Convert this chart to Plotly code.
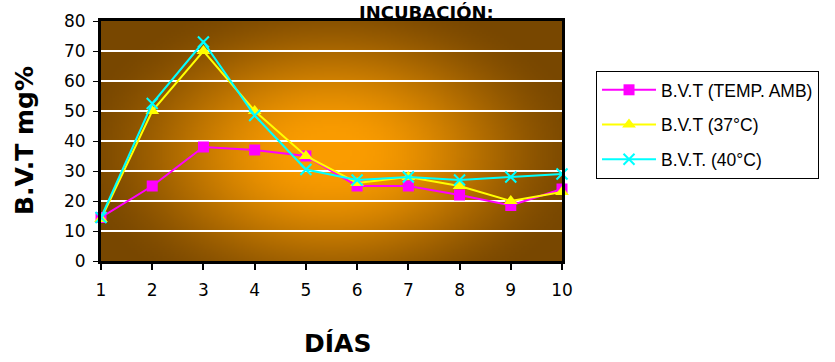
import base64
import struct
import zlib

import numpy as np
import plotly.graph_objects as go

# ---- data -------------------------------------------------------------
dias = [1, 2, 3, 4, 5, 6, 7, 8, 9, 10]
bvt_amb = [14.5, 25, 38, 37, 35, 25, 25, 22, 18.5, 24]
bvt_37 = [14, 50, 70, 50, 35, 26, 28, 25, 20, 23]
bvt_40 = [14.5, 52.5, 73, 48.5, 30.5, 27, 28, 27, 28, 29]

series_names = ["B.V.T (TEMP. AMB)", "B.V.T (37°C)", "B.V.T. (40°C)"]
y_ticks = [0, 10, 20, 30, 40, 50, 60, 70, 80]

FONT = "DejaVu Sans"
LEGEND_FONT = "Liberation Sans, Arial"


# ---- radial orange background as an inline PNG --------------------------
def radial_png(w=240, h=120):
    xs = (np.arange(w) + 0.5) / w
    ys = (np.arange(h) + 0.5) / h
    gx, gy = np.meshgrid(xs, ys)
    t = np.sqrt(((gx - 0.5) / 0.58) ** 2 + ((gy - 0.55) / 0.7) ** 2)
    s = np.clip((t - 0.08) / 0.92, 0, 1)
    s = s * s * (3 - 2 * s)
    bright = np.array([250, 156, 0], dtype=float)
    dark = np.array([120, 71, 0], dtype=float)
    img = bright[None, None, :] * (1 - s[..., None]) + dark[None, None, :] * s[..., None]
    img = np.clip(img, 0, 255).astype(np.uint8)
    raw = b"".join(b"\x00" + img[r].tobytes() for r in range(h))

    def chunk(tag, data):
        c = struct.pack(">I", len(data)) + tag + data
        return c + struct.pack(">I", zlib.crc32(tag + data) & 0xFFFFFFFF)

    png = b"\x89PNG\r\n\x1a\n"
    png += chunk(b"IHDR", struct.pack(">IIBBBBB", w, h, 8, 2, 0, 0, 0))
    png += chunk(b"IDAT", zlib.compress(raw, 9))
    png += chunk(b"IEND", b"")
    return "data:image/png;base64," + base64.b64encode(png).decode()


fig = go.Figure()

styles = [
    dict(color="#ff00ff", symbol="square", size=11, lw=0),
    dict(color="#ffff00", symbol="triangle-up", size=12, lw=0),
    dict(color="#00ffff", symbol="x-thin", size=11, lw=2),
]
for i, (name, vals, st) in enumerate(zip(series_names, [bvt_amb, bvt_37, bvt_40], styles)):
    marker = dict(symbol=st["symbol"], size=st["size"], color=st["color"])
    if st["lw"]:
        marker["line"] = dict(color=st["color"], width=st["lw"])
    fig.add_trace(
        go.Scatter(
            x=dias,
            y=vals,
            name=name,
            mode="lines+markers",
            line=dict(color=st["color"], width=2),
            marker=marker,
            cliponaxis=False,
            legendgroup=f"g{i}",
        )
    )

# dark dash marks sitting on the white gridlines
shapes = []
for v in y_ticks[1:-1]:
    shapes.append(
        dict(
            type="line",
            xref="paper",
            yref="y",
            x0=0,
            x1=1,
            y0=v,
            y1=v,
            layer="between",
            line=dict(color="#333333", width=2, dash="4px,15.5px"),
        )
    )

fig.update_layout(
    width=835,
    height=362,
    margin=dict(l=101, r=273, t=21, b=101),
    paper_bgcolor="white",
    plot_bgcolor="rgba(0,0,0,0)",
    font=dict(family=FONT, color="black", size=17),
    showlegend=True,
    legend=dict(
        x=1.0738,
        y=0.792,
        xanchor="left",
        yanchor="top",
        bgcolor="white",
        bordercolor="black",
        borderwidth=1,
        font=dict(family=LEGEND_FONT, size=17.5, color="black"),
        tracegroupgap=9,
        itemwidth=54,
    ),
    images=[
        dict(
            source=radial_png(),
            xref="paper",
            yref="paper",
            x=0,
            y=1,
            sizex=1,
            sizey=1,
            sizing="stretch",
            xanchor="left",
            yanchor="top",
            layer="below",
        )
    ],
    shapes=shapes,
    annotations=[
        dict(
            text="<b>INCUBACIÓN:</b>",
            xref="paper",
            yref="paper",
            x=0.707,
            y=1.0875,
            xanchor="center",
            yanchor="top",
            showarrow=False,
            font=dict(family=FONT, size=18, color="black"),
        ),
        dict(
            text="<b>DÍAS</b>",
            xref="paper",
            yref="paper",
            x=(337 - 101) / 461,
            y=-0.344,
            xanchor="center",
            yanchor="middle",
            showarrow=False,
            font=dict(family=FONT, size=25, color="black"),
        ),
        dict(
            text="<b>B.V.T mg%</b>",
            xref="paper",
            yref="paper",
            x=(24 - 101) / 461,
            y=0.5,
            xanchor="center",
            yanchor="middle",
            textangle=-90,
            showarrow=False,
            font=dict(family=FONT, size=25, color="black"),
        ),
    ],
)

fig.update_xaxes(
    range=[1, 10],
    tickvals=dias,
    ticktext=[str(d) for d in dias],
    showgrid=False,
    zeroline=False,
    showline=True,
    linecolor="black",
    linewidth=3,
    mirror=True,
    ticks="outside",
    ticklen=6,
    tickwidth=2,
    tickcolor="black",
    ticklabelstandoff=6,
    tickfont=dict(family=FONT, size=17, color="black"),
)
fig.update_yaxes(
    range=[0, 80],
    tickvals=y_ticks,
    showgrid=True,
    gridcolor="white",
    gridwidth=2,
    zeroline=False,
    showline=True,
    linecolor="black",
    linewidth=3,
    mirror=True,
    ticks="outside",
    ticklen=5,
    tickwidth=1,
    tickcolor="black",
    ticklabelstandoff=4,
    tickfont=dict(family=FONT, size=17, color="black"),
)

fig.write_html("out.html")
